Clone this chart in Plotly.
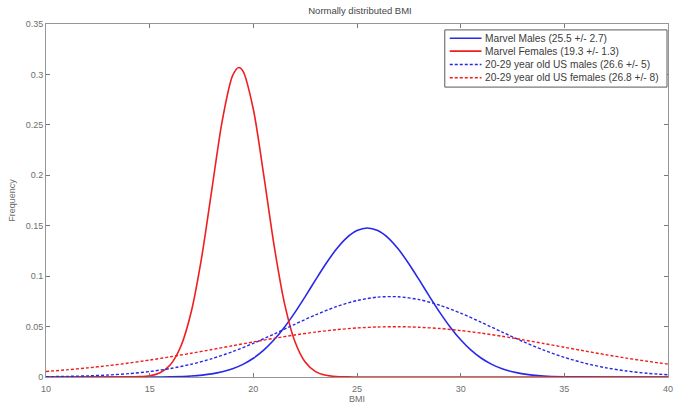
import plotly.graph_objects as go

# Marvel Females (19.3 +/- 1.3)
fem_x = [10, 12, 14, 14.5, 15, 15.5, 16, 16.5, 17, 17.5, 18, 18.5, 19, 19.3, 19.5, 20, 20.5, 21,
         21.5, 22, 22.5, 23, 23.5, 24, 24.5, 25, 27, 30, 35, 40]
fem_y = [0, 0, 0.00008, 0.00034, 0.00129, 0.00428, 0.01224, 0.0302, 0.0642, 0.1177, 0.1861, 0.2540,
         0.2988, 0.3069, 0.3033, 0.2655, 0.2004, 0.1305, 0.0733, 0.0355, 0.01483, 0.00535, 0.00166,
         0.00044, 0.0001, 0.00002, 0, 0, 0, 0]

# Marvel Males (25.5 +/- 2.7)
male_x = [10, 13, 15, 16, 17, 18, 18.5, 19, 19.5, 20, 20.5, 21, 21.5, 22, 22.5, 23, 23.5, 24, 24.5,
          25, 25.5, 26, 26.5, 27, 27.5, 28, 28.5, 29, 29.5, 30, 30.5, 31, 31.5, 32, 32.5, 33, 34,
          35, 36, 38, 40]
male_y = [0, 0, 0.00006, 0.0003, 0.00104, 0.00312, 0.00513, 0.00815, 0.01251, 0.01856, 0.0266,
          0.03685, 0.04931, 0.06378, 0.0797, 0.09625, 0.1123, 0.1266, 0.1380, 0.1452, 0.1478,
          0.1452, 0.1380, 0.1266, 0.1123, 0.09625, 0.0797, 0.06378, 0.04931, 0.03685, 0.0266,
          0.01856, 0.01251, 0.00815, 0.00513, 0.00312, 0.00104, 0.0003, 0.00008, 0, 0]

# 20-29 year old US males (26.6 +/- 5)
usm_x = list(range(10, 41))
usm_y = [0.00032, 0.00061, 0.00112, 0.00197, 0.00334, 0.00541, 0.00844, 0.01263, 0.01818, 0.02513,
         0.03339, 0.04262, 0.05226, 0.06157, 0.0697, 0.07581, 0.07922, 0.07954, 0.07673, 0.07111,
         0.06332, 0.05418, 0.04453, 0.03517, 0.02669, 0.01946, 0.01363, 0.00918, 0.00593, 0.00368,
         0.0022]

# 20-29 year old US females (26.8 +/- 8)
usf_x = list(range(10, 41))
usf_y = [0.0055, 0.00709, 0.00901, 0.01127, 0.01386, 0.01681, 0.02005, 0.02355, 0.02723, 0.03101,
         0.03475, 0.03835, 0.04166, 0.04455, 0.04691, 0.04862, 0.04962, 0.04987, 0.04931, 0.04802,
         0.04603, 0.04345, 0.04037, 0.03693, 0.03326, 0.02949, 0.02574, 0.02212, 0.01872, 0.01559,
         0.01279]

names = ["Marvel Males (25.5 +/- 2.7)", "Marvel Females (19.3 +/- 1.3)",
         "20-29 year old US males (26.6 +/- 5)", "20-29 year old US females (26.8 +/- 8)"]

BLUE = "rgb(40,40,235)"
RED = "rgb(240,30,30)"
FONT = "Liberation Sans, Arial, sans-serif"
GRAY = "rgb(110,110,110)"
DASH = "3px,2px"

styles = [dict(color=BLUE, width=1.6), dict(color=RED, width=1.6),
          dict(color=BLUE, width=1.4, dash=DASH), dict(color=RED, width=1.4, dash=DASH)]
series = [(male_x, male_y), (fem_x, fem_y), (usm_x, usm_y), (usf_x, usf_y)]

fig = go.Figure()
for (xs, ys), nm, st in zip(series, names, styles):
    fig.add_trace(go.Scatter(x=xs, y=ys, mode="lines", name=nm, showlegend=False,
                             line=dict(shape="spline", smoothing=0.8, **st)))

# plot-area geometry (pixels) used to place the hand-built legend
W, H = 680, 409
ML, MR, MT, MB = 46, 7, 24, 27
PW, PH = W - ML - MR, H - MT - MB


def px_x(p):
    return (p - ML) / PW


def px_y(p):
    return (H - MB - p) / PH


shapes = [dict(type="rect", xref="paper", yref="paper",
               x0=px_x(448), x1=px_x(672), y0=px_y(88), y1=px_y(30),
               line=dict(color="rgb(90,90,90)", width=1), fillcolor="white", layer="above")]
annotations = []
row_y = [38.5, 51.5, 65, 78.5]
for nm, st, ry in zip(names, styles, row_y):
    shapes.append(dict(type="line", xref="paper", yref="paper",
                       x0=px_x(453), x1=px_x(485), y0=px_y(ry), y1=px_y(ry),
                       line=dict(color=st["color"], width=st["width"], dash=st.get("dash", "solid")),
                       layer="above"))
    annotations.append(dict(xref="paper", yref="paper", x=px_x(487), y=px_y(ry),
                            xanchor="left", yanchor="middle", showarrow=False, text=nm,
                            font=dict(family=FONT, size=10.2, color="rgb(60,60,60)")))

axis_common = dict(showgrid=False, zeroline=False, showline=True, linecolor="rgb(150,150,150)",
                   linewidth=1, mirror="allticks", ticks="inside", ticklen=4,
                   tickcolor="rgb(120,120,120)", tickfont=dict(family=FONT, size=9, color=GRAY))

fig.update_layout(
    width=W, height=H,
    margin=dict(l=ML, r=MR, t=MT, b=MB),
    paper_bgcolor="white", plot_bgcolor="white",
    font=dict(family=FONT, size=9, color=GRAY),
    title=dict(text="Normally distributed BMI", x=360 / W, xanchor="center", y=1 - 11 / H,
               yanchor="middle", font=dict(family=FONT, size=9.5, color="rgb(70,70,70)")),
    xaxis=dict(range=[10, 40], tickvals=[10, 15, 20, 25, 30, 35, 40],
               title=dict(text="BMI", standoff=2, font=dict(family=FONT, size=9, color=GRAY)),
               ticklabelstandoff=3, **axis_common),
    yaxis=dict(range=[0, 0.35], tickvals=[0, 0.05, 0.1, 0.15, 0.2, 0.25, 0.3, 0.35],
               ticktext=["0", "0.05", "0.1", "0.15", "0.2", "0.25", "0.3", "0.35"],
               title=dict(text="Frequency", standoff=8, font=dict(family=FONT, size=9, color=GRAY)),
               **axis_common),
    shapes=shapes,
    annotations=annotations,
    showlegend=False,
)

fig.write_html("out.html")
